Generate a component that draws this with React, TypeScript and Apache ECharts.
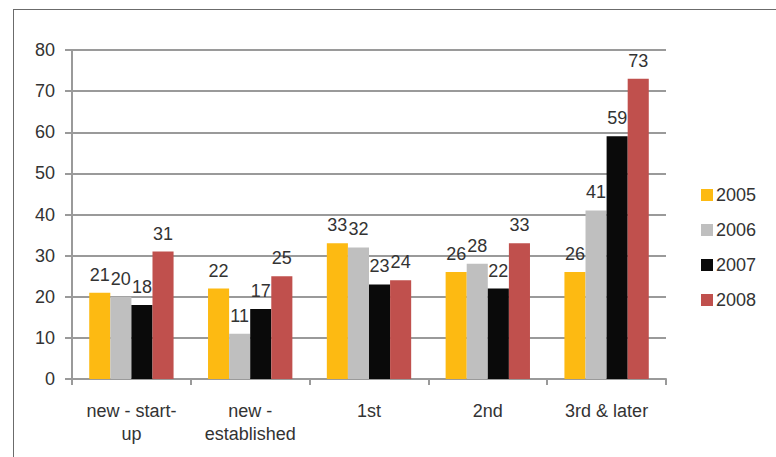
import React, { useEffect, useRef } from "react";
import * as echarts from "echarts";

const categories = ["new - start-\nup", "new -\nestablished", "1st", "2nd", "3rd & later"];
const years = ["2005", "2006", "2007", "2008"];
const values2005 = [21, 22, 33, 26, 26];
const values2006 = [20, 11, 32, 28, 41];
const values2007 = [18, 17, 23, 22, 59];
const values2008 = [31, 25, 24, 33, 73];
const colors = ["#FDBA12", "#BFBFBF", "#0A0A0A", "#C0504D"];

const FONT = "Liberation Sans, Arial, sans-serif";

export default function App() {
  const ref = useRef<HTMLDivElement>(null);
  useEffect(() => {
    if (!ref.current) return;
    const chart = echarts.init(ref.current, null, { renderer: "svg" });
    const seriesData = [values2005, values2006, values2007, values2008];
    chart.setOption({
      animation: false,
      textStyle: { fontFamily: FONT },
      grid: { left: 72, right: 110, top: 50, bottom: 78, containLabel: false },
      legend: {
        orient: "vertical",
        left: 696,
        top: 181,
        itemWidth: 12,
        itemHeight: 12,
        itemGap: 17,
        icon: "rect",
        data: years,
        textStyle: { fontSize: 18, color: "#333", fontFamily: FONT, padding: [0, 0, 0, -2] },
      },
      graphic: [
        { type: "line", shape: { x1: 13, y1: 9.5, x2: 776, y2: 9.5 }, style: { stroke: "#6b6b6b", lineWidth: 1 } },
        { type: "line", shape: { x1: 13.5, y1: 9, x2: 13.5, y2: 457 }, style: { stroke: "#6b6b6b", lineWidth: 1 } },
      ],
      xAxis: {
        type: "category",
        data: categories,
        axisLine: { lineStyle: { color: "#9a9a9a", width: 2 } },
        axisTick: { show: true, length: 6, lineStyle: { color: "#9a9a9a", width: 2 } },
        axisLabel: { fontSize: 18, color: "#333", margin: 20, lineHeight: 23, fontFamily: FONT },
      },
      yAxis: {
        type: "value",
        min: 0,
        max: 80,
        interval: 10,
        axisLine: { show: true, lineStyle: { color: "#9a9a9a", width: 2 } },
        axisTick: { show: true, length: 7, lineStyle: { color: "#9a9a9a", width: 2 } },
        axisLabel: { fontSize: 18, color: "#333", margin: 17, fontFamily: FONT },
        splitLine: { lineStyle: { color: "#9a9a9a", width: 2 } },
      },
      series: years.map((y, i) => ({
        name: y,
        type: "bar",
        data: seriesData[i],
        barGap: "0%",
        barCategoryGap: "29%",
        itemStyle: { color: colors[i] },
        label: {
          show: true,
          position: "top",
          distance: 9,
          fontSize: 18,
          color: "#333",
          fontFamily: FONT,
        },
      })),
    });
    return () => chart.dispose();
  }, []);
  return (
    <div
      ref={ref}
      style={{ position: "absolute", left: 0, top: 0, width: 776, height: 457, background: "#fff" }}
    />
  );
}
